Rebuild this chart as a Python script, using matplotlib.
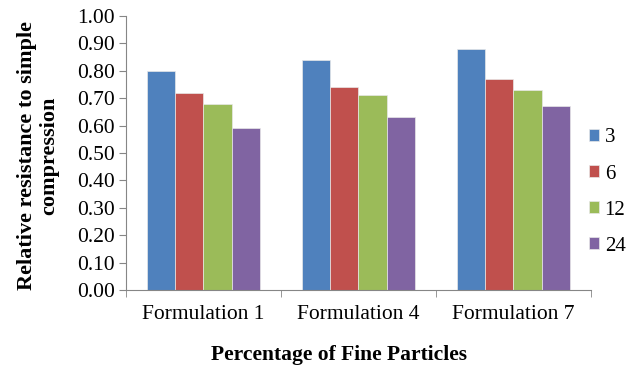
import numpy as np
import matplotlib
matplotlib.use('Agg')
import matplotlib.pyplot as plt

categories = ['Formulation 1', 'Formulation 4', 'Formulation 7']
series = ['3', '6', '12', '24']
vals_3 = [0.80, 0.84, 0.88]
vals_6 = [0.72, 0.74, 0.77]
vals_12 = [0.68, 0.71, 0.73]
vals_24 = [0.59, 0.63, 0.67]
colors = ['#4F81BD', '#C0504D', '#9BBB59', '#8064A2']

plt.rcParams['font.family'] = ['Liberation Serif', 'DejaVu Serif']

fig = plt.figure(figsize=(6.36, 3.68), dpi=100)
ax = fig.add_axes([0.198, 0.212, 0.731, 0.7445])

x = np.arange(len(categories))
w = 1 / 5.5
allvals = [vals_3, vals_6, vals_12, vals_24]
for i, (v, c, s) in enumerate(zip(allvals, colors, series)):
    ax.bar(x + (i - 1.5) * w, v, w, color=c, edgecolor='#E8E8E8', linewidth=0.5, label=s)

ax.set_xlim(-0.5, 2.5)
ax.set_ylim(0, 1.0)
ticks = np.arange(0, 1.01, 0.1)
ax.set_yticks(ticks)
ax.set_yticklabels(['%.2f' % t for t in ticks], fontsize=15.5)
ax.set_xticks(x)
ax.set_xticklabels(categories, fontsize=15.5)
ax.set_xticks([-0.5, 0.5, 1.5, 2.5], minor=True)
ax.tick_params(axis='x', which='major', length=0, pad=11)
ax.tick_params(axis='x', which='minor', length=5, color='#868686')
ax.tick_params(axis='y', length=5, color='#868686', pad=3)

for sp in ['top', 'right']:
    ax.spines[sp].set_visible(False)
for sp in ['left', 'bottom']:
    ax.spines[sp].set_color('#868686')

ax.set_xlabel('Percentage of Fine Particles', fontsize=15.5, fontweight='bold')
ax.xaxis.set_label_coords(0.458, -0.2)
ax.set_ylabel('Relative resistance to simple\ncompression', fontsize=16, fontweight='bold',
              linespacing=1.15)
ax.yaxis.set_label_coords(-0.144, 0.49)

fig.legend(loc='center left', bbox_to_anchor=(0.896, 0.478), frameon=False, fontsize=15,
           handlelength=0.52, handleheight=0.52, handletextpad=0.25, labelspacing=0.82)

plt.savefig('out.png', dpi=100)
